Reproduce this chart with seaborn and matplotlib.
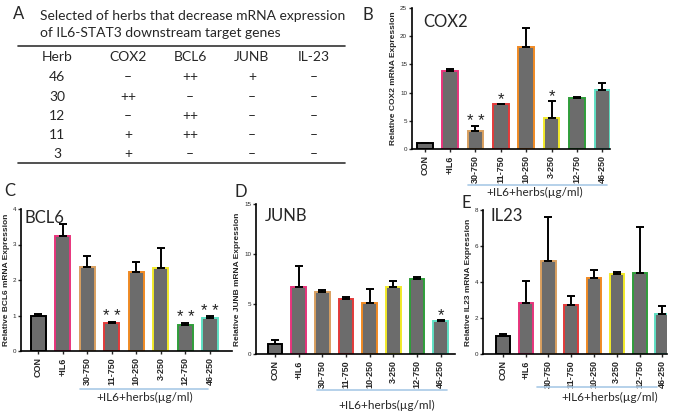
import matplotlib
matplotlib.use("Agg")
import matplotlib.pyplot as plt
import matplotlib.transforms as mtransforms
from matplotlib.lines import Line2D
import numpy as np
import pandas as pd
import seaborn as sns

# data
groups = ["CON", "+IL6", "30-750", "11-750", "10-250", "3-250", "12-750", "46-250"]
edge_cols = ["#000000", "#e8347c", "#d9a060", "#e33a3a", "#f08a24", "#f2ea2a", "#2f9e3a", "#5fe0c4"]

cox2 = [1.0, 13.9, 3.2, 7.9, 18.0, 5.5, 9.0, 10.4]
cox2_err = [0.1, 0.3, 0.8, 0.1, 3.5, 3.0, 0.2, 1.3]
cox2_sig = ["", "", "* *", "*", "", "*", "", ""]

bcl6 = [1.0, 3.25, 2.37, 0.8, 2.22, 2.33, 0.72, 0.92]
bcl6_err = [0.05, 0.33, 0.3, 0.03, 0.28, 0.57, 0.08, 0.06]
bcl6_sig = ["", "", "", "* *", "", "", "* *", "* *"]

junb = [1.0, 6.7, 6.25, 5.55, 5.15, 6.7, 7.5, 3.3]
junb_err = [0.4, 2.1, 0.2, 0.15, 1.35, 0.65, 0.2, 0.1]
junb_sig = ["", "", "", "", "", "", "", "*"]

il23 = [1.0, 2.85, 5.15, 2.7, 4.22, 4.45, 4.52, 2.25]
il23_err = [0.12, 1.2, 2.45, 0.5, 0.45, 0.12, 2.55, 0.4]
il23_sig = [""] * 8

# table A
tbl_header = ["Herb", "COX2", "BCL6", "JUNB", "IL-23"]
herbs = ["46", "30", "12", "11", "3"]
tbl_cox2 = ["\u2013", "++", "\u2013", "+", "+"]
tbl_bcl6 = ["++", "\u2013", "++", "++", "\u2013"]
tbl_junb = ["+", "\u2013", "\u2013", "\u2013", "\u2013"]
tbl_il23 = ["\u2013", "\u2013", "\u2013", "\u2013", "\u2013"]

sns.set_theme(style="ticks")
plt.rcParams["font.family"] = ["Liberation Sans", "DejaVu Sans"]

W, H = 685, 412
fig = plt.figure(figsize=(W / 100, H / 100), dpi=100, facecolor="white")


def px(x, y):
    return x / W, 1 - y / H


def panel(rect, xlim, vals, errs, sig, ylim, yticks, ylabel, gene, gene_xy,
          br_x, br_y, txt_x, txt_y):
    x0, y0, x1, y1 = rect
    ax = fig.add_axes([x0 / W, 1 - y1 / H, (x1 - x0) / W, (y1 - y0) / H])
    df = pd.DataFrame({"group": groups, "value": vals})
    sns.barplot(data=df, x="group", y="value", ax=ax, color="#6c6c6c",
                saturation=1, width=0.62, errorbar=None)
    for p, c in zip(ax.patches, edge_cols):
        p.set_edgecolor(c)
        p.set_linewidth(1.4)
    xs = np.arange(len(groups))
    ax.errorbar(xs, vals, yerr=[np.zeros(len(errs)), errs], fmt="none",
                ecolor="black", elinewidth=1.4, capsize=3, capthick=1.4, zorder=1)
    for x, v, e, s in zip(xs, vals, errs, sig):
        if s:
            ax.annotate(s, xy=(x, v + e), xytext=(0, -2), textcoords="offset points",
                        ha="center", va="bottom", fontsize=12, color="#222222")
    ax.set_xlim(*xlim)
    ax.set_ylim(0, ylim)
    ax.set_yticks(yticks)
    ax.set_xlabel("")
    ax.set_ylabel(ylabel, fontsize=6, fontweight="bold", labelpad=2)
    ax.set_xticks(xs)
    ax.set_xticklabels(groups, rotation=90, fontsize=6.5, fontweight="bold")
    ax.tick_params(axis="y", labelsize=4.5, length=2.5, width=1, pad=1)
    ax.tick_params(axis="x", length=2.5, width=1, pad=2)
    sns.despine(ax=ax)
    for s in ["left", "bottom"]:
        ax.spines[s].set_linewidth(1.2)
        ax.spines[s].set_color("black")
    fig.text(*px(*gene_xy), gene, fontsize=12, family="Lato", va="center", ha="left")
    trans = mtransforms.blended_transform_factory(ax.transData, ax.transAxes)
    ax.add_line(Line2D(br_x, [br_y, br_y], transform=trans, color="#a9c9e6",
                       lw=1.2, clip_on=False))
    ax.text(txt_x, txt_y, "+IL6+herbs(\u00b5g/ml)", transform=trans, ha="center",
            va="center", fontsize=8.5, family="Lato")
    return ax


panel((412, 8, 610, 149), (-0.5, 7.3), cox2, cox2_err, cox2_sig, 25,
      [0, 5, 10, 15, 20, 25], "Relative COX2 mRNA Expression", "COX2", (423, 22),
      [1.70, 7.18], -0.255, 4.34, -0.31)
panel((21, 209, 232, 351), (-0.7, 7.9), bcl6, bcl6_err, bcl6_sig, 4,
      [0, 1, 2, 3, 4], "Relative BCL6 mRNA Expression", "BCL6", (25, 218),
      [1.71, 6.93], -0.27, 4.36, -0.33)
panel((256, 204, 455, 354), (-0.8, 7.6), junb, junb_err, junb_sig, 15,
      [0, 5, 10, 15], "Relative JUNB mRNA Expression", "JUNB", (265, 216),
      [1.77, 7.26], -0.24, 4.73, -0.34)
panel((483, 210, 667, 354), (-0.87, 7.2), il23, il23_err, il23_sig, 8,
      [0, 2, 4, 6, 8], "Relative IL23 mRNA Expression", "IL23", (491, 216),
      [1.5, 6.76], -0.23, 4.7, -0.305)

# panel letters
for lab, (x, y) in zip("ABCDE", [(19, 14), (368, 15), (10, 191), (241, 192), (466, 203)]):
    fig.text(*px(x, y), lab, fontsize=12, family="Lato", ha="center", va="center")

# table A
fig.text(*px(40, 16), "Selected of herbs that decrease mRNA expression",
         fontsize=10, family="Lato", va="center", ha="left")
fig.text(*px(40, 33), "of IL6-STAT3 downstream target genes",
         fontsize=10, family="Lato", va="center", ha="left")
for yy in [46, 163]:
    fig.add_artist(Line2D([18 / W, 345 / W], [1 - yy / H, 1 - yy / H],
                          color="#333333", lw=1.2))
col_x = [57, 128, 190, 252, 314]
row_y = [77, 97, 116, 135, 154]
for cx, h in zip(col_x, tbl_header):
    fig.text(*px(cx, 57), h, fontsize=10, family="Lato", ha="center", va="center")
for col, cx in zip([herbs, tbl_cox2, tbl_bcl6, tbl_junb, tbl_il23], col_x):
    for val, ry in zip(col, row_y):
        fig.text(*px(cx, ry), val, fontsize=10, family="Lato", ha="center", va="center")

fig.savefig("out.png", dpi=100, facecolor="white")
